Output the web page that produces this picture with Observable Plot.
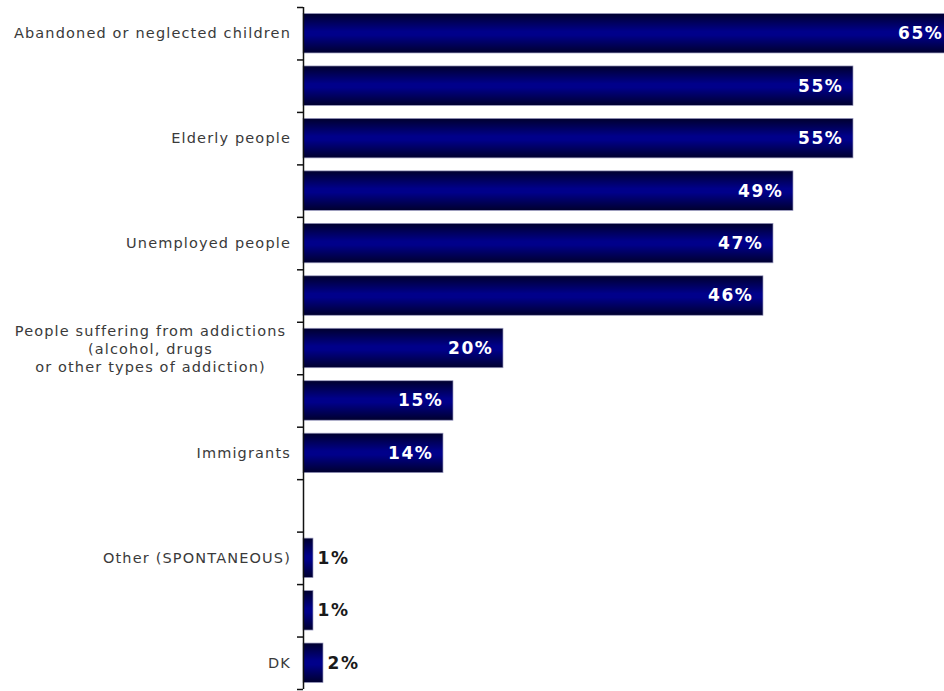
<!DOCTYPE html>
<html>
<head>
<meta charset="utf-8">
<script src="https://cdn.jsdelivr.net/npm/d3@7"></script>
<script src="https://cdn.jsdelivr.net/npm/@observablehq/plot@0.6"></script>
<style>
  html, body { margin: 0; padding: 0; background: #ffffff; }
  #chart svg { display: block; }
  #chart svg g[font-weight="bold"] text { letter-spacing: 1.6px; }
  #chart svg g[font-weight="normal"] text { letter-spacing: 1.15px; }
</style>
</head>
<body>
<div id="chart"></div>
<script>
// Row labels (blank rows carry no visible label in the reference)
const categories = [
  "Abandoned or neglected children",
  "",
  "Elderly people",
  "",
  "Unemployed people",
  "",
  "People suffering from addictions\n(alcohol, drugs\nor other types of addiction)",
  "",
  "Immigrants",
  "",
  "Other (SPONTANEOUS)",
  "",
  "DK"
];
// Percentages (null = empty row, no bar)
const values = [65, 55, 55, 49, 47, 46, 20, 15, 14, null, 1, 1, 2];
const valueLabels = ["65%", "55%", "55%", "49%", "47%", "46%", "20%", "15%", "14%", "", "1%", "1%", "2%"];

const rows = categories.map((label, i) => ({
  row: i,
  label,
  value: values[i],
  text: valueLabels[i],
  multiline: label.includes("\n")
}));
const bars = rows.filter(d => d.value != null);
const inside = bars.filter(d => d.value >= 10);
const outside = bars.filter(d => d.value < 10);

const W = 944, H = 691, mTop = 7, mBottom = 2;
const step = (H - mTop - mBottom) / categories.length;

const gradient = () => {
  const defs = d3.create("svg:defs");
  const g = defs.append("linearGradient")
    .attr("id", "barGrad").attr("x1", 0).attr("y1", 0).attr("x2", 0).attr("y2", 1);
  g.append("stop").attr("offset", "0%").attr("stop-color", "#00002e");
  g.append("stop").attr("offset", "45%").attr("stop-color", "#00008a");
  g.append("stop").attr("offset", "55%").attr("stop-color", "#00008a");
  g.append("stop").attr("offset", "100%").attr("stop-color", "#00002e");
  return defs.node();
};

const chart = Plot.plot({
  width: W,
  height: H,
  marginLeft: 303,
  marginRight: 0,
  marginTop: mTop,
  marginBottom: mBottom,
  style: { fontFamily: "'DejaVu Sans', Verdana, sans-serif", background: "#ffffff", overflow: "hidden" },
  x: { domain: [0, 64.1], axis: null },
  y: { domain: rows.map(d => d.row), padding: 0, round: false, axis: null },
  marks: [
    gradient,
    Plot.barX(bars, {
      y: "row", x: "value",
      fill: "url(#barGrad)",
      stroke: "#9a9ac0", strokeWidth: 0.7,
      insetTop: 6.5, insetBottom: 6.5
    }),
    Plot.text(inside, {
      y: "row", x: "value", text: "text",
      textAnchor: "end", dx: -10,
      fill: "#ffffff", fontWeight: "bold", fontSize: 17
    }),
    Plot.text(outside, {
      y: "row", x: "value", text: "text",
      textAnchor: "start", dx: 4,
      fill: "#1a1a1a", fontWeight: "bold", fontSize: 17
    }),
    // category labels
    Plot.text(rows.filter(d => d.label && !d.multiline), {
      y: "row", x: 0, text: "label",
      textAnchor: "end", dx: -12.5,
      fill: "#3a3a3a", fontSize: 14.5, fontWeight: "normal"
    }),
    Plot.text(rows.filter(d => d.multiline), {
      y: "row", x: 0, text: "label",
      textAnchor: "middle", dx: -153, lineHeight: 1.25,
      fill: "#3a3a3a", fontSize: 14.5, fontWeight: "normal"
    }),
    // axis line and boundary ticks
    Plot.ruleX([0], { stroke: "#111", strokeWidth: 1.5 }),
    Plot.ruleY(rows, { y: "row", x1: -0.6, x2: 0, dy: -step / 2, stroke: "#111", strokeWidth: 1.5 }),
    Plot.ruleY(rows.slice(-1), { y: "row", x1: -0.6, x2: 0, dy: step / 2, stroke: "#111", strokeWidth: 1.5 })
  ]
});
document.getElementById("chart").appendChild(chart);
</script>
</body>
</html>
